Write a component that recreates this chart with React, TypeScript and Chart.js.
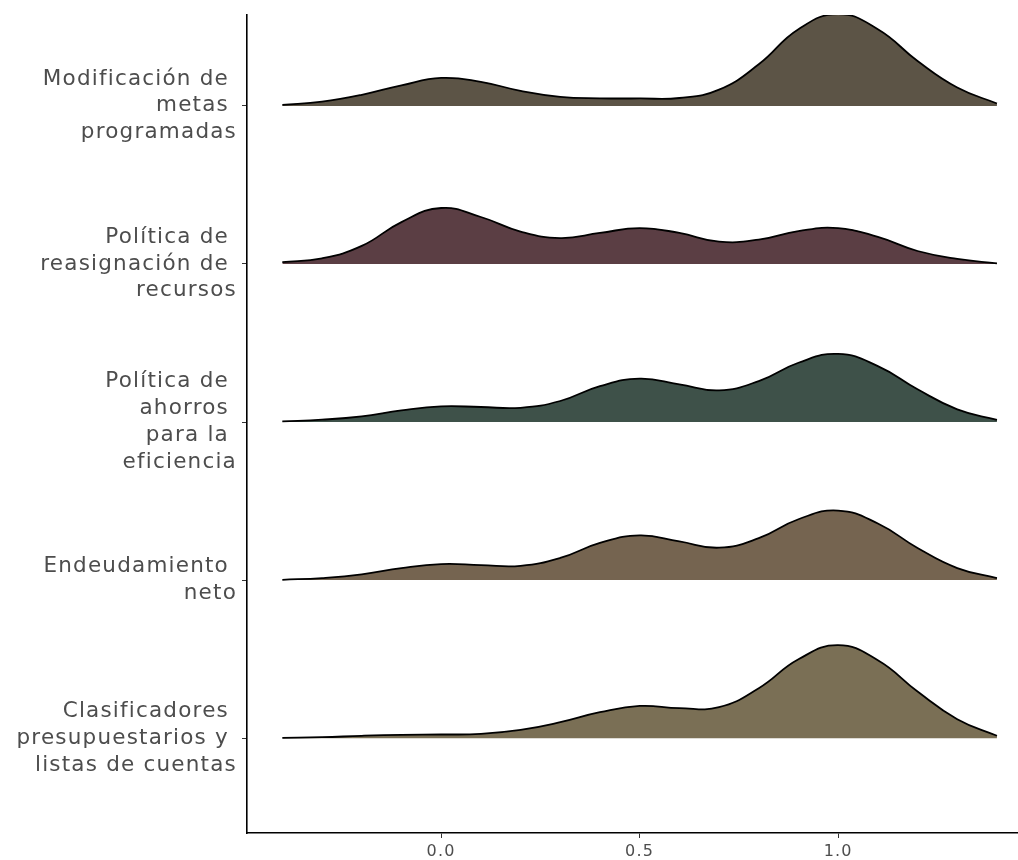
import React, { useEffect, useRef } from "react";
import { Chart, registerables } from "chart.js";

Chart.register(...registerables);

// x grid at which the ridge heights were read
const xValues = [-0.4, -0.3, -0.2, -0.1, 0.0, 0.1, 0.2, 0.3, 0.4, 0.5, 0.6, 0.7, 0.8, 0.9, 1.0, 1.1, 1.2, 1.3, 1.4];

// categories, top to bottom
const categories: string[][] = [
  ["Modificación de ", "metas ", "programadas"],
  ["Política de ", "reasignación de ", "recursos"],
  ["Política de ", "ahorros ", "para la ", "eficiencia"],
  ["Endeudamiento ", "neto"],
  ["Clasificadores ", "presupuestarios y ", "listas de cuentas"],
];

// ridge heights (in units of row spacing)
const modificacionMetas = [0.006, 0.027, 0.07, 0.13, 0.177, 0.152, 0.095, 0.057, 0.048, 0.047, 0.05, 0.103, 0.263, 0.485, 0.58, 0.485, 0.284, 0.116, 0.015];
const reasignacionRecursos = [0.011, 0.036, 0.114, 0.265, 0.354, 0.297, 0.205, 0.164, 0.196, 0.227, 0.196, 0.141, 0.154, 0.208, 0.227, 0.171, 0.082, 0.032, 0.004];
const ahorrosEficiencia = [0.004, 0.015, 0.036, 0.074, 0.099, 0.095, 0.09, 0.133, 0.227, 0.274, 0.238, 0.2, 0.259, 0.375, 0.431, 0.354, 0.207, 0.08, 0.013];
const endeudamientoNeto = [0.002, 0.013, 0.036, 0.076, 0.101, 0.095, 0.09, 0.14, 0.235, 0.283, 0.245, 0.205, 0.265, 0.385, 0.44, 0.358, 0.203, 0.076, 0.013];
const clasificadores = [0.002, 0.006, 0.015, 0.021, 0.023, 0.027, 0.052, 0.101, 0.164, 0.204, 0.19, 0.196, 0.316, 0.499, 0.588, 0.493, 0.295, 0.12, 0.015];

const seriesList = [modificacionMetas, reasignacionRecursos, ahorrosEficiencia, endeudamientoNeto, clasificadores];
const fillColors = ["#5c5446", "#5b3e44", "#3e5149", "#756450", "#7a6f55"];

const xTicks = [0, 0.5, 1.0];

export default function App() {
  const canvasRef = useRef<HTMLCanvasElement | null>(null);

  useEffect(() => {
    if (!canvasRef.current) return;
    const n = categories.length;
    const datasets = seriesList.map((vals, i) => {
      const base = n - i;
      return {
        label: categories[i].join(""),
        data: xValues.map((x, j) => ({ x, y: base + vals[j] })),
        borderColor: "#000000",
        borderWidth: 1.8,
        backgroundColor: fillColors[i],
        fill: { value: base },
        pointRadius: 0,
        tension: 0.45,
      };
    });

    const spacingPlugin = {
      id: "spacing",
      beforeDraw: (chart: any) => {
        try { (chart.ctx as any).letterSpacing = "1.2px"; } catch (e) {}
      },
      afterDraw: (chart: any) => {
        try { (chart.ctx as any).letterSpacing = "0px"; } catch (e) {}
      },
    };

    const chart = new Chart(canvasRef.current, {
      type: "line",
      data: { datasets },
      plugins: [spacingPlugin],
      options: {
        animation: false,
        responsive: true,
        maintainAspectRatio: false,
        layout: { padding: { top: 15, left: 0, right: 0, bottom: 0 } },
        plugins: { legend: { display: false }, tooltip: { enabled: false } },
        scales: {
          x: {
            type: "linear",
            min: -0.489,
            max: 1.453,
            afterFit: (s: any) => { s.height = 27; s.paddingLeft = 0; s.paddingRight = 0; },
            afterBuildTicks: (s: any) => { s.ticks = xTicks.map((v) => ({ value: v })); },
            ticks: {
              callback: (v: any) => Number(v).toFixed(1),
              color: "#4d4d4d",
              font: { family: "DejaVu Sans", size: 16 },
              padding: 4,
              maxRotation: 0,
            },
            grid: { display: true, drawOnChartArea: false, drawTicks: true, tickLength: 5, color: "#333333", lineWidth: 1 },
            border: { display: true, color: "#000000", width: 1.6 },
          },
          y: {
            type: "linear",
            min: 0.4,
            max: 5.575,
            afterFit: (s: any) => { s.width = 247; s.paddingTop = 0; s.paddingBottom = 0; },
            afterBuildTicks: (s: any) => { s.ticks = categories.map((_, i) => ({ value: n - i })); },
            ticks: {
              callback: (v: any) => categories[n - Number(v)],
              color: "#4d4d4d",
              font: { family: "DejaVu Sans", size: 21.5, lineHeight: 1.25 },
              padding: 5,
            },
            grid: { display: true, drawOnChartArea: false, drawTicks: true, tickLength: 5, color: "#333333", lineWidth: 1 },
            border: { display: true, color: "#000000", width: 1.6 },
          },
        },
      },
    });
    return () => chart.destroy();
  }, []);

  return (
    <div style={{ position: "fixed", left: 0, top: 0, width: 1018, height: 860, background: "#ffffff" }}>
      <canvas ref={canvasRef} />
    </div>
  );
}
